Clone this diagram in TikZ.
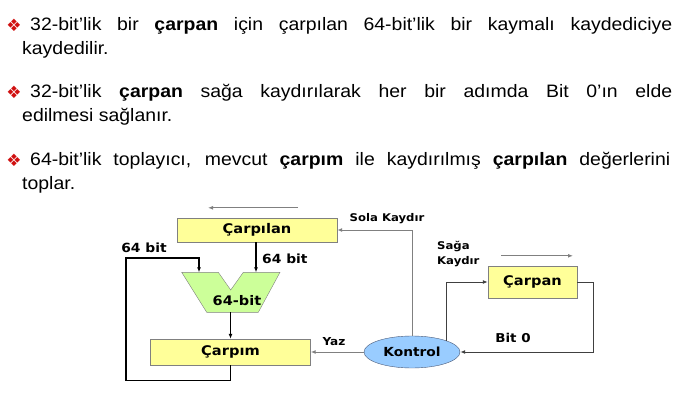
\documentclass[tikz,border=0pt]{standalone}
\usepackage{fontspec}
\setmainfont{Liberation Sans}[FakeStretch=1.08]
\newfontfamily\blockfont{DejaVu Sans}[FakeStretch=1.1]
\newfontfamily\bulletfont{DejaVu Sans}
\usetikzlibrary{positioning, arrows.meta, shapes.geometric}
\usepackage{xcolor}
\definecolor{regfill}{HTML}{FFFF99}
\definecolor{alufill}{HTML}{CCFF99}
\definecolor{ctrlfill}{HTML}{99CCFF}
\definecolor{ctrldraw}{HTML}{4A5A78}
\definecolor{bulletred}{HTML}{D01010}
\tikzset{
  mulreg/.style   = {draw=gray, fill=regfill, inner sep=0pt,
                     font=\blockfont\bfseries\fontsize{13.3}{15}\selectfont},
  mulctrl/.style  = {draw=ctrldraw, fill=ctrlfill, ellipse, inner sep=0pt,
                     minimum width=96pt, minimum height=32pt,
                     font=\blockfont\bfseries\fontsize{12.5}{14}\selectfont},
  mullbl/.style   = {inner sep=0pt, font=\blockfont\bfseries\fontsize{10.6}{15}\selectfont},
  mulbus/.style   = {inner sep=0pt, font=\blockfont\bfseries\fontsize{12.6}{14}\selectfont},
  mularrow/.style = {-{Latex[length=5pt,width=4pt]}},
  busline/.style  = {mularrow, line width=1.4pt},
  ctlline/.style  = {mularrow, draw=gray, line width=1pt},
  sigline/.style  = {mularrow, draw=black!75, line width=1pt},
  shiftarr/.style = {mularrow, draw=gray, line width=1pt},
  bullet/.style   = {inner sep=0pt, text=bulletred, font=\bulletfont\fontsize{17}{17}\selectfont},
  txtline/.style  = {inner sep=0pt, anchor=base west, font=\fontsize{18}{24}\selectfont}
}

\begin{document}
\begin{tikzpicture}[x=1pt, y=-1pt]
  \useasboundingbox (0,0) rectangle (687,395);

  % bullet text
  \node[bullet] (b1) at (14,25) {❖};
  \node[txtline] (t1) at (30,31)
    {\makebox[642pt][s]{32-bit’lik bir \textbf{çarpan} için çarpılan 64-bit’lik bir kaymalı kaydediciye}};
  \node[txtline] (t2) at (22,55) {kaydedilir.};
  \node[bullet] (b2) at (14,92) {❖};
  \node[txtline] (t3) at (30,98)
    {\makebox[642pt][s]{32-bit’lik \textbf{çarpan} sağa kaydırılarak her bir adımda Bit 0’ın elde}};
  \node[txtline] (t4) at (22,122) {edilmesi sağlanır.};
  \node[bullet] (b3) at (14,160) {❖};
  \node[txtline] (t5) at (30,166)
    {\makebox[640pt][s]{64-bit’lik toplayıcı, mevcut \textbf{çarpım} ile kaydırılmış \textbf{çarpılan} değerlerini}};
  \node[txtline] (t6) at (22,190) {toplar.};

  % registers and control
  \node[mulreg, minimum width=160pt, minimum height=24pt] (carpilan) at (257,230) {Çarpılan};
  \node[mulreg, minimum width=160pt, minimum height=26pt] (carpim)   at (230.5,352) {Çarpım};
  \node[mulreg, minimum width=89pt,  minimum height=32pt] (carpan)   at (532.5,282) {Çarpan};
  \node[mulctrl] (kontrol) at (412,352) {Kontrol};

  % 64-bit adder
  \draw[draw=gray, fill=alufill] (181.7,272.3) -- (218.3,272.3) -- (230.7,290)
    -- (243.3,272.3) -- (280,272.3) -- (258.3,312.3) -- (206.7,312.3) -- cycle;
  \coordinate (aluA)   at (199,272.3);
  \coordinate (aluB)   at (256,272.3);
  \coordinate (aluOut) at (230.5,312.3);
  \node[mulbus, font=\blockfont\bfseries\fontsize{13.2}{14}\selectfont] (alulbl) at (237,301) {64-bit};

  % data paths
  \coordinate (loop) at (126,258);
  \draw[busline] (aluB |- carpilan.south) -- (aluB);
  \draw[busline] (aluOut) -- (carpim.north);
  \draw[busline] (carpim.south) -- ++(0,15) -| (loop) -| (aluA);

  % control paths
  \draw[ctlline] (kontrol.north) |- (carpilan.east);
  \draw[ctlline] (kontrol.west) -- (carpim.east);
  \draw[sigline] (kontrol.18) |- (carpan.west);
  \draw[sigline] (carpan.east) -- ++(16,0) |- (kontrol.east);

  % shift directions
  \draw[shiftarr] ([xshift=41pt, yshift=10pt]carpilan.north) -- ([xshift=-49pt, yshift=10pt]carpilan.north);
  \draw[shiftarr] ([xshift=-31.5pt, yshift=10pt]carpan.north) -- ([xshift=40.5pt, yshift=10pt]carpan.north);

  % labels
  \node[mullbl] (solalbl) at (387,219) {Sola Kaydır};
  \node[mullbl, align=left, anchor=west] (sagalbl) at (437,254) {Sağa\\Kaydır};
  \node[mulbus] (buslblA) at (144,248) {64 bit};
  \node[mulbus, anchor=west] (buslblB) at (262,259) {64 bit};
  \node[mullbl, font=\blockfont\bfseries\fontsize{11}{14}\selectfont] (yazlbl) at (334,342) {Yaz};
  \node[mulbus, font=\blockfont\bfseries\fontsize{12.2}{14}\selectfont] (bitlbl) at (513,338) {Bit 0};
\end{tikzpicture}
\end{document}
